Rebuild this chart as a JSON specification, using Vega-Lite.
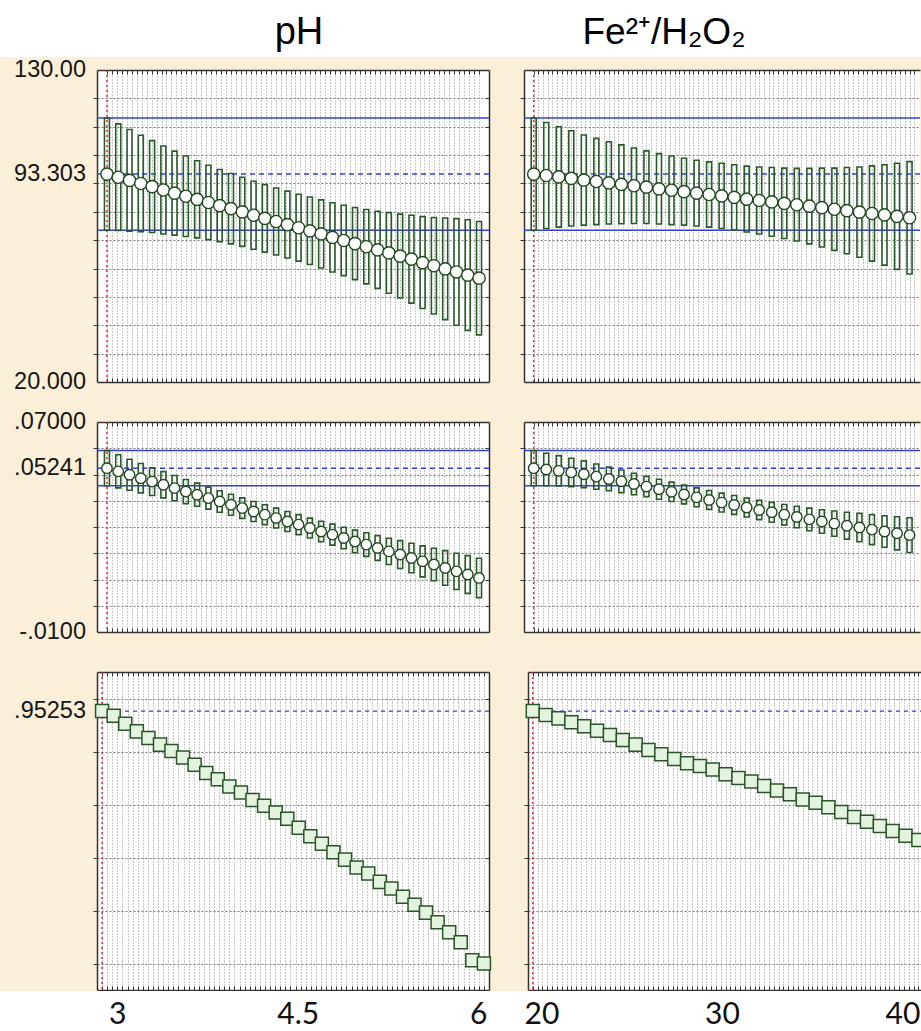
{
  "$schema": "https://vega.github.io/schema/vega-lite/v6.json",
  "background": "#FBEFD7",
  "padding": 0,
  "spacing": 0,
  "config": {
    "view": {"stroke": null},
    "axis": {
      "domainColor": "#333333",
      "domainWidth": 1.5,
      "tickColor": "#333333",
      "tickWidth": 1,
      "gridColor": "#8f8f8f",
      "gridWidth": 1,
      "gridDash": [1, 2]
    }
  },
  "datasets": {
    "cur": [{"pH": 3, "Fe": 20}],
    "ref1": [{"v": 113.1, "k": "ci"}, {"v": 73.5, "k": "ci"}, {"v": 93.303, "k": "pred"}],
    "ref2": [{"v": 0.0591, "k": "ci"}, {"v": 0.0457, "k": "ci"}, {"v": 0.05241, "k": "pred"}],
    "ref3": [{"v": 0.95253, "k": "pred"}],
    "lab1": [{"v": 130, "t": "130.00"}, {"v": 93.303, "t": "93.303"}, {"v": 20, "t": "20.000"}],
    "lab2": [{"v": 0.07, "t": ".07000"}, {"v": 0.05241, "t": ".05241"}, {"v": -0.01, "t": "-.0100"}],
    "lab3": [{"v": 0.95253, "t": ".95253"}],
    "p1pH": [
      {"pH": 3.000, "m": 93.30, "lo": 73.5, "hi": 113.1},
      {"pH": 3.091, "m": 92.2, "lo": 73.4, "hi": 111.0},
      {"pH": 3.182, "m": 91.1, "lo": 73.2, "hi": 109.0},
      {"pH": 3.273, "m": 90.0, "lo": 73.0, "hi": 107.0},
      {"pH": 3.364, "m": 88.9, "lo": 72.7, "hi": 105.1},
      {"pH": 3.455, "m": 87.7, "lo": 72.2, "hi": 103.2},
      {"pH": 3.545, "m": 86.6, "lo": 71.8, "hi": 101.4},
      {"pH": 3.636, "m": 85.5, "lo": 71.3, "hi": 99.7},
      {"pH": 3.727, "m": 84.4, "lo": 70.8, "hi": 98.0},
      {"pH": 3.818, "m": 83.3, "lo": 70.2, "hi": 96.4},
      {"pH": 3.909, "m": 82.2, "lo": 69.5, "hi": 94.9},
      {"pH": 4.000, "m": 81.1, "lo": 68.7, "hi": 93.5},
      {"pH": 4.091, "m": 80.0, "lo": 67.8, "hi": 92.2},
      {"pH": 4.182, "m": 78.8, "lo": 66.8, "hi": 90.8},
      {"pH": 4.273, "m": 77.7, "lo": 65.8, "hi": 89.6},
      {"pH": 4.364, "m": 76.6, "lo": 64.8, "hi": 88.4},
      {"pH": 4.455, "m": 75.5, "lo": 63.7, "hi": 87.3},
      {"pH": 4.545, "m": 74.4, "lo": 62.6, "hi": 86.2},
      {"pH": 4.636, "m": 73.3, "lo": 61.4, "hi": 85.2},
      {"pH": 4.727, "m": 72.2, "lo": 60.2, "hi": 84.2},
      {"pH": 4.818, "m": 71.0, "lo": 58.8, "hi": 83.2},
      {"pH": 4.909, "m": 69.9, "lo": 57.5, "hi": 82.3},
      {"pH": 5.000, "m": 68.8, "lo": 56.1, "hi": 81.5},
      {"pH": 5.091, "m": 67.7, "lo": 54.6, "hi": 80.8},
      {"pH": 5.182, "m": 66.6, "lo": 53.0, "hi": 80.2},
      {"pH": 5.273, "m": 65.5, "lo": 51.3, "hi": 79.7},
      {"pH": 5.364, "m": 64.4, "lo": 49.6, "hi": 79.2},
      {"pH": 5.455, "m": 63.3, "lo": 47.8, "hi": 78.8},
      {"pH": 5.545, "m": 62.1, "lo": 45.9, "hi": 78.3},
      {"pH": 5.636, "m": 61.0, "lo": 44.0, "hi": 78.0},
      {"pH": 5.727, "m": 59.9, "lo": 42.0, "hi": 77.8},
      {"pH": 5.818, "m": 58.8, "lo": 40.0, "hi": 77.6},
      {"pH": 5.909, "m": 57.7, "lo": 38.2, "hi": 77.2},
      {"pH": 6.000, "m": 56.6, "lo": 36.6, "hi": 76.6}
    ],
    "p1Fe": [
      {"Fe": 20.000, "m": 93.30, "lo": 73.5, "hi": 113.1},
      {"Fe": 20.667, "m": 92.8, "lo": 74.1, "hi": 111.5},
      {"Fe": 21.333, "m": 92.3, "lo": 74.6, "hi": 110.0},
      {"Fe": 22.000, "m": 91.8, "lo": 75.0, "hi": 108.6},
      {"Fe": 22.667, "m": 91.2, "lo": 75.3, "hi": 107.1},
      {"Fe": 23.333, "m": 90.7, "lo": 75.5, "hi": 105.9},
      {"Fe": 24.000, "m": 90.2, "lo": 75.7, "hi": 104.7},
      {"Fe": 24.667, "m": 89.7, "lo": 75.8, "hi": 103.6},
      {"Fe": 25.333, "m": 89.2, "lo": 75.9, "hi": 102.5},
      {"Fe": 26.000, "m": 88.7, "lo": 75.9, "hi": 101.5},
      {"Fe": 26.667, "m": 88.1, "lo": 75.7, "hi": 100.5},
      {"Fe": 27.333, "m": 87.6, "lo": 75.5, "hi": 99.7},
      {"Fe": 28.000, "m": 87.1, "lo": 75.3, "hi": 98.9},
      {"Fe": 28.667, "m": 86.6, "lo": 75.0, "hi": 98.2},
      {"Fe": 29.333, "m": 86.1, "lo": 74.6, "hi": 97.6},
      {"Fe": 30.000, "m": 85.6, "lo": 74.1, "hi": 97.1},
      {"Fe": 30.667, "m": 85.1, "lo": 73.6, "hi": 96.6},
      {"Fe": 31.333, "m": 84.5, "lo": 72.9, "hi": 96.1},
      {"Fe": 32.000, "m": 84.0, "lo": 72.2, "hi": 95.8},
      {"Fe": 32.667, "m": 83.5, "lo": 71.4, "hi": 95.6},
      {"Fe": 33.333, "m": 83.0, "lo": 70.6, "hi": 95.4},
      {"Fe": 34.000, "m": 82.5, "lo": 69.7, "hi": 95.3},
      {"Fe": 34.667, "m": 82.0, "lo": 68.7, "hi": 95.3},
      {"Fe": 35.333, "m": 81.5, "lo": 67.6, "hi": 95.4},
      {"Fe": 36.000, "m": 80.9, "lo": 66.4, "hi": 95.4},
      {"Fe": 36.667, "m": 80.4, "lo": 65.2, "hi": 95.6},
      {"Fe": 37.333, "m": 79.9, "lo": 64.0, "hi": 95.8},
      {"Fe": 38.000, "m": 79.4, "lo": 62.6, "hi": 96.2},
      {"Fe": 38.667, "m": 78.9, "lo": 61.2, "hi": 96.6},
      {"Fe": 39.333, "m": 78.4, "lo": 59.7, "hi": 97.1},
      {"Fe": 40.000, "m": 77.9, "lo": 58.1, "hi": 97.7}
    ],
    "p2pH": [
      {"pH": 3.000, "m": 0.05241, "lo": 0.0457, "hi": 0.0591},
      {"pH": 3.091, "m": 0.0512, "lo": 0.0449, "hi": 0.0575},
      {"pH": 3.182, "m": 0.0499, "lo": 0.0440, "hi": 0.0558},
      {"pH": 3.273, "m": 0.0486, "lo": 0.0430, "hi": 0.0542},
      {"pH": 3.364, "m": 0.0473, "lo": 0.0420, "hi": 0.0526},
      {"pH": 3.455, "m": 0.0461, "lo": 0.0411, "hi": 0.0511},
      {"pH": 3.545, "m": 0.0448, "lo": 0.0400, "hi": 0.0496},
      {"pH": 3.636, "m": 0.0435, "lo": 0.0389, "hi": 0.0481},
      {"pH": 3.727, "m": 0.0423, "lo": 0.0379, "hi": 0.0467},
      {"pH": 3.818, "m": 0.0410, "lo": 0.0368, "hi": 0.0452},
      {"pH": 3.909, "m": 0.0397, "lo": 0.0356, "hi": 0.0438},
      {"pH": 4.000, "m": 0.0385, "lo": 0.0345, "hi": 0.0425},
      {"pH": 4.091, "m": 0.0372, "lo": 0.0333, "hi": 0.0411},
      {"pH": 4.182, "m": 0.0359, "lo": 0.0321, "hi": 0.0397},
      {"pH": 4.273, "m": 0.0347, "lo": 0.0309, "hi": 0.0385},
      {"pH": 4.364, "m": 0.0334, "lo": 0.0296, "hi": 0.0372},
      {"pH": 4.455, "m": 0.0321, "lo": 0.0283, "hi": 0.0359},
      {"pH": 4.545, "m": 0.0309, "lo": 0.0271, "hi": 0.0347},
      {"pH": 4.636, "m": 0.0296, "lo": 0.0258, "hi": 0.0334},
      {"pH": 4.727, "m": 0.0283, "lo": 0.0244, "hi": 0.0322},
      {"pH": 4.818, "m": 0.0271, "lo": 0.0231, "hi": 0.0311},
      {"pH": 4.909, "m": 0.0258, "lo": 0.0217, "hi": 0.0299},
      {"pH": 5.000, "m": 0.0245, "lo": 0.0202, "hi": 0.0288},
      {"pH": 5.091, "m": 0.0233, "lo": 0.0188, "hi": 0.0278},
      {"pH": 5.182, "m": 0.0220, "lo": 0.0173, "hi": 0.0267},
      {"pH": 5.273, "m": 0.0207, "lo": 0.0157, "hi": 0.0257},
      {"pH": 5.364, "m": 0.0195, "lo": 0.0142, "hi": 0.0248},
      {"pH": 5.455, "m": 0.0182, "lo": 0.0126, "hi": 0.0238},
      {"pH": 5.545, "m": 0.0169, "lo": 0.0110, "hi": 0.0228},
      {"pH": 5.636, "m": 0.0157, "lo": 0.0095, "hi": 0.0219},
      {"pH": 5.727, "m": 0.0144, "lo": 0.0078, "hi": 0.0210},
      {"pH": 5.818, "m": 0.0131, "lo": 0.0062, "hi": 0.0200},
      {"pH": 5.909, "m": 0.0119, "lo": 0.0047, "hi": 0.0191},
      {"pH": 6.000, "m": 0.0106, "lo": 0.0031, "hi": 0.0181}
    ],
    "p2Fe": [
      {"Fe": 20.000, "m": 0.05241, "lo": 0.0457, "hi": 0.0591},
      {"Fe": 20.667, "m": 0.0519, "lo": 0.0457, "hi": 0.0581},
      {"Fe": 21.333, "m": 0.0514, "lo": 0.0456, "hi": 0.0572},
      {"Fe": 22.000, "m": 0.0508, "lo": 0.0454, "hi": 0.0562},
      {"Fe": 22.667, "m": 0.0501, "lo": 0.0450, "hi": 0.0552},
      {"Fe": 23.333, "m": 0.0492, "lo": 0.0444, "hi": 0.0540},
      {"Fe": 24.000, "m": 0.0483, "lo": 0.0438, "hi": 0.0528},
      {"Fe": 24.667, "m": 0.0474, "lo": 0.0431, "hi": 0.0517},
      {"Fe": 25.333, "m": 0.0464, "lo": 0.0423, "hi": 0.0505},
      {"Fe": 26.000, "m": 0.0454, "lo": 0.0415, "hi": 0.0493},
      {"Fe": 26.667, "m": 0.0444, "lo": 0.0406, "hi": 0.0482},
      {"Fe": 27.333, "m": 0.0434, "lo": 0.0397, "hi": 0.0471},
      {"Fe": 28.000, "m": 0.0424, "lo": 0.0388, "hi": 0.0460},
      {"Fe": 28.667, "m": 0.0413, "lo": 0.0377, "hi": 0.0449},
      {"Fe": 29.333, "m": 0.0403, "lo": 0.0367, "hi": 0.0439},
      {"Fe": 30.000, "m": 0.0393, "lo": 0.0357, "hi": 0.0429},
      {"Fe": 30.667, "m": 0.0384, "lo": 0.0348, "hi": 0.0420},
      {"Fe": 31.333, "m": 0.0374, "lo": 0.0338, "hi": 0.0410},
      {"Fe": 32.000, "m": 0.0365, "lo": 0.0328, "hi": 0.0402},
      {"Fe": 32.667, "m": 0.0356, "lo": 0.0318, "hi": 0.0394},
      {"Fe": 33.333, "m": 0.0347, "lo": 0.0308, "hi": 0.0386},
      {"Fe": 34.000, "m": 0.0338, "lo": 0.0297, "hi": 0.0379},
      {"Fe": 34.667, "m": 0.0329, "lo": 0.0286, "hi": 0.0372},
      {"Fe": 35.333, "m": 0.0321, "lo": 0.0276, "hi": 0.0366},
      {"Fe": 36.000, "m": 0.0313, "lo": 0.0265, "hi": 0.0361},
      {"Fe": 36.667, "m": 0.0305, "lo": 0.0254, "hi": 0.0356},
      {"Fe": 37.333, "m": 0.0298, "lo": 0.0244, "hi": 0.0352},
      {"Fe": 38.000, "m": 0.0290, "lo": 0.0233, "hi": 0.0347},
      {"Fe": 38.667, "m": 0.0283, "lo": 0.0223, "hi": 0.0343},
      {"Fe": 39.333, "m": 0.0276, "lo": 0.0213, "hi": 0.0339},
      {"Fe": 40.000, "m": 0.0269, "lo": 0.0203, "hi": 0.0335}
    ],
    "p3pH": [
      {"pH": 3.000, "d": 0.95253}, {"pH": 3.091, "d": 0.935}, {"pH": 3.182, "d": 0.905},
      {"pH": 3.273, "d": 0.876}, {"pH": 3.364, "d": 0.851}, {"pH": 3.455, "d": 0.826},
      {"pH": 3.545, "d": 0.802}, {"pH": 3.636, "d": 0.777}, {"pH": 3.727, "d": 0.750},
      {"pH": 3.818, "d": 0.719}, {"pH": 3.909, "d": 0.695}, {"pH": 4.000, "d": 0.668},
      {"pH": 4.091, "d": 0.645}, {"pH": 4.182, "d": 0.617}, {"pH": 4.273, "d": 0.595},
      {"pH": 4.364, "d": 0.570}, {"pH": 4.455, "d": 0.546}, {"pH": 4.545, "d": 0.512},
      {"pH": 4.636, "d": 0.480}, {"pH": 4.727, "d": 0.452}, {"pH": 4.818, "d": 0.420},
      {"pH": 4.909, "d": 0.392}, {"pH": 5.000, "d": 0.362}, {"pH": 5.091, "d": 0.340},
      {"pH": 5.182, "d": 0.308}, {"pH": 5.273, "d": 0.283}, {"pH": 5.364, "d": 0.252},
      {"pH": 5.455, "d": 0.222}, {"pH": 5.545, "d": 0.192}, {"pH": 5.636, "d": 0.156},
      {"pH": 5.727, "d": 0.118}, {"pH": 5.818, "d": 0.080}, {"pH": 5.909, "d": 0.012},
      {"pH": 6.000, "d": 0.000}
    ],
    "p3Fe": [
      {"Fe": 20.000, "d": 0.95253}, {"Fe": 20.667, "d": 0.938}, {"Fe": 21.333, "d": 0.925},
      {"Fe": 22.000, "d": 0.910}, {"Fe": 22.667, "d": 0.895}, {"Fe": 23.333, "d": 0.878},
      {"Fe": 24.000, "d": 0.862}, {"Fe": 24.667, "d": 0.843}, {"Fe": 25.333, "d": 0.826},
      {"Fe": 26.000, "d": 0.806}, {"Fe": 26.667, "d": 0.790}, {"Fe": 27.333, "d": 0.772},
      {"Fe": 28.000, "d": 0.756}, {"Fe": 28.667, "d": 0.745}, {"Fe": 29.333, "d": 0.732},
      {"Fe": 30.000, "d": 0.714}, {"Fe": 30.667, "d": 0.700}, {"Fe": 31.333, "d": 0.687},
      {"Fe": 32.000, "d": 0.670}, {"Fe": 32.667, "d": 0.653}, {"Fe": 33.333, "d": 0.639},
      {"Fe": 34.000, "d": 0.619}, {"Fe": 34.667, "d": 0.607}, {"Fe": 35.333, "d": 0.590},
      {"Fe": 36.000, "d": 0.572}, {"Fe": 36.667, "d": 0.553}, {"Fe": 37.333, "d": 0.535},
      {"Fe": 38.000, "d": 0.519}, {"Fe": 38.667, "d": 0.500}, {"Fe": 39.333, "d": 0.482},
      {"Fe": 40.000, "d": 0.466}
    ],
    "footpH": [{"pH": 3}, {"pH": 4.5}, {"pH": 6}],
    "footFe": [{"Fe": 20}, {"Fe": 30}, {"Fe": 40}]
  },
  "vconcat": [
    {
      "spacing": 0,
      "bounds": "flush",
      "hconcat": [
        {
          "width": 580, "height": 57,
          "view": {"fill": "#ffffff", "stroke": null},
          "data": {"values": [{"t": "pH"}]},
          "mark": {"type": "text", "font": "Liberation Sans", "fontSize": 38, "baseline": "alphabetic", "dy": 15, "dx": 9, "color": "#000000"},
          "encoding": {"text": {"field": "t"}}
        },
        {
          "width": 168, "height": 57,
          "view": {"fill": "#ffffff", "stroke": null},
          "data": {"values": [{"t": "Fe²⁺/H₂O₂"}]},
          "mark": {"type": "text", "font": "Liberation Sans", "fontSize": 37, "baseline": "alphabetic", "dy": 15, "color": "#000000"},
          "encoding": {"text": {"field": "t"}}
        },
        {
          "width": 173, "height": 57,
          "view": {"fill": "#ffffff", "stroke": null},
          "data": {"values": [{"t": ""}]},
          "mark": {"type": "text"},
          "encoding": {"text": {"field": "t"}}
        }
      ]
    },
    {
      "spacing": 0,
      "hconcat": [
        {
          "width": 86, "height": 312,
          "data": {"name": "lab1"},
          "mark": {"type": "text", "align": "right", "baseline": "middle", "font": "Liberation Sans", "fontSize": 23.5, "color": "#151515"},
          "encoding": {
            "y": {"field": "v", "type": "quantitative", "scale": {"domain": [20, 130], "nice": false, "zero": false}, "axis": null},
            "x": {"value": "width"},
            "text": {"field": "t"}
          }
        },
        {
          "width": 392, "height": 312,
          "view": {"fill": "#ffffff", "stroke": null},
          "resolve": {"axis": {"x": "independent", "y": "independent"}},
          "layer": [
            {
              "data": {"name": "ref1"},
              "transform": [{"filter": "datum.k == 'ci'"}],
              "mark": {"type": "rule", "color": "#3240d2", "strokeWidth": 1.5},
              "encoding": {
                "y": {"field": "v", "type": "quantitative", "scale": {"domain": [20, 130], "nice": false, "zero": false},
                  "axis": {"orient": "left", "title": null, "values": [30, 40, 50, 60, 70, 80, 90, 100, 110, 120], "labels": false, "tickSize": 4, "grid": true, "gridDash": [2, 2], "gridColor": "#7a7a7a", "domain": true, "minExtent": 11, "maxExtent": 11}}
              }
            },
            {
              "data": {"name": "ref1"},
              "transform": [{"filter": "datum.k == 'pred'"}],
              "mark": {"type": "rule", "color": "#3240d2", "strokeWidth": 1.5, "strokeDash": [5, 4]},
              "encoding": {"y": {"field": "v", "type": "quantitative", "axis": null}}
            },
            {
              "data": {"name": "cur"},
              "mark": {"type": "rule", "color": "#e0283a", "strokeWidth": 1.5, "strokeDash": [2, 3]},
              "encoding": {
                "x": {"field": "pH", "type": "quantitative", "scale": {"domain": [2.96, 6.04], "nice": false, "zero": false},
                  "axis": {"orient": "top", "title": null, "values": [3,3.04,3.08,3.12,3.16,3.2,3.24,3.28,3.32,3.36,3.4,3.44,3.48,3.52,3.56,3.6,3.64,3.68,3.72,3.76,3.8,3.84,3.88,3.92,3.96,4,4.04,4.08,4.12,4.16,4.2,4.24,4.28,4.32,4.36,4.4,4.44,4.48,4.52,4.56,4.6,4.64,4.68,4.72,4.76,4.8,4.84,4.88,4.92,4.96,5,5.04,5.08,5.12,5.16,5.2,5.24,5.28,5.32,5.36,5.4,5.44,5.48,5.52,5.56,5.6,5.64,5.68,5.72,5.76,5.8,5.84,5.88,5.92,5.96,6], "labels": false, "tickSize": -4, "grid": true, "domain": true, "minExtent": 13, "maxExtent": 13}}
              }
            },
            {
              "data": {"name": "p1pH"},
              "mark": {"type": "bar", "width": 5, "filled": false, "color": "#285a2a", "strokeWidth": 1.6},
              "encoding": {
                "x": {"field": "pH", "type": "quantitative", "axis": null},
                "y": {"field": "lo", "type": "quantitative", "axis": null},
                "y2": {"field": "hi"}
              }
            },
            {
              "data": {"name": "p1pH"},
              "mark": {"type": "point", "shape": "circle", "size": 150, "filled": true, "fill": "#ffffff", "stroke": "#21481f", "strokeWidth": 1.4, "opacity": 1},
              "encoding": {
                "x": {"field": "pH", "type": "quantitative",
                  "axis": {"orient": "bottom", "title": null, "values": [3,3.04,3.08,3.12,3.16,3.2,3.24,3.28,3.32,3.36,3.4,3.44,3.48,3.52,3.56,3.6,3.64,3.68,3.72,3.76,3.8,3.84,3.88,3.92,3.96,4,4.04,4.08,4.12,4.16,4.2,4.24,4.28,4.32,4.36,4.4,4.44,4.48,4.52,4.56,4.6,4.64,4.68,4.72,4.76,4.8,4.84,4.88,4.92,4.96,5,5.04,5.08,5.12,5.16,5.2,5.24,5.28,5.32,5.36,5.4,5.44,5.48,5.52,5.56,5.6,5.64,5.68,5.72,5.76,5.8,5.84,5.88,5.92,5.96,6], "labels": false, "tickSize": -4, "grid": false, "domain": true, "minExtent": 20, "maxExtent": 20}},
                "y": {"field": "m", "type": "quantitative",
                  "axis": {"orient": "right", "title": null, "values": [30, 40, 50, 60, 70, 80, 90, 100, 110, 120], "labels": false, "tickSize": -4, "grid": false, "domain": true, "minExtent": 0, "maxExtent": 0}}
              }
            }
          ]
        },
        {
          "width": 396, "height": 312,
          "view": {"fill": "#ffffff", "stroke": null},
          "resolve": {"axis": {"x": "independent", "y": "independent"}},
          "layer": [
            {
              "data": {"name": "ref1"},
              "transform": [{"filter": "datum.k == 'ci'"}],
              "mark": {"type": "rule", "color": "#3240d2", "strokeWidth": 1.5},
              "encoding": {
                "y": {"field": "v", "type": "quantitative", "scale": {"domain": [20, 130], "nice": false, "zero": false},
                  "axis": {"orient": "left", "title": null, "values": [30, 40, 50, 60, 70, 80, 90, 100, 110, 120], "labels": false, "tickSize": 4, "grid": true, "gridDash": [2, 2], "gridColor": "#7a7a7a", "domain": true, "minExtent": 34, "maxExtent": 34}}
              }
            },
            {
              "data": {"name": "ref1"},
              "transform": [{"filter": "datum.k == 'pred'"}],
              "mark": {"type": "rule", "color": "#3240d2", "strokeWidth": 1.5, "strokeDash": [5, 4]},
              "encoding": {"y": {"field": "v", "type": "quantitative", "axis": null}}
            },
            {
              "data": {"name": "cur"},
              "mark": {"type": "rule", "color": "#e0283a", "strokeWidth": 1.5, "strokeDash": [2, 3]},
              "encoding": {
                "x": {"field": "Fe", "type": "quantitative", "scale": {"domain": [19.75, 40.29], "nice": false, "zero": false},
                  "axis": {"orient": "top", "title": null, "values": [20,20.25,20.5,20.75,21,21.25,21.5,21.75,22,22.25,22.5,22.75,23,23.25,23.5,23.75,24,24.25,24.5,24.75,25,25.25,25.5,25.75,26,26.25,26.5,26.75,27,27.25,27.5,27.75,28,28.25,28.5,28.75,29,29.25,29.5,29.75,30,30.25,30.5,30.75,31,31.25,31.5,31.75,32,32.25,32.5,32.75,33,33.25,33.5,33.75,34,34.25,34.5,34.75,35,35.25,35.5,35.75,36,36.25,36.5,36.75,37,37.25,37.5,37.75,38,38.25,38.5,38.75,39,39.25,39.5,39.75,40,40.25], "labels": false, "tickSize": -4, "grid": true, "domain": true, "minExtent": 13, "maxExtent": 13}}
              }
            },
            {
              "data": {"name": "p1Fe"},
              "mark": {"type": "bar", "width": 5, "filled": false, "color": "#285a2a", "strokeWidth": 1.6},
              "encoding": {
                "x": {"field": "Fe", "type": "quantitative", "axis": null},
                "y": {"field": "lo", "type": "quantitative", "axis": null},
                "y2": {"field": "hi"}
              }
            },
            {
              "data": {"name": "p1Fe"},
              "mark": {"type": "point", "shape": "circle", "size": 150, "filled": true, "fill": "#ffffff", "stroke": "#21481f", "strokeWidth": 1.4, "opacity": 1},
              "encoding": {
                "x": {"field": "Fe", "type": "quantitative",
                  "axis": {"orient": "bottom", "title": null, "values": [20,20.25,20.5,20.75,21,21.25,21.5,21.75,22,22.25,22.5,22.75,23,23.25,23.5,23.75,24,24.25,24.5,24.75,25,25.25,25.5,25.75,26,26.25,26.5,26.75,27,27.25,27.5,27.75,28,28.25,28.5,28.75,29,29.25,29.5,29.75,30,30.25,30.5,30.75,31,31.25,31.5,31.75,32,32.25,32.5,32.75,33,33.25,33.5,33.75,34,34.25,34.5,34.75,35,35.25,35.5,35.75,36,36.25,36.5,36.75,37,37.25,37.5,37.75,38,38.25,38.5,38.75,39,39.25,39.5,39.75,40,40.25], "labels": false, "tickSize": -4, "grid": false, "domain": true, "minExtent": 20, "maxExtent": 20}},
                "y": {"field": "m", "type": "quantitative", "axis": null}
              }
            }
          ]
        }
      ]
    },
    {
      "spacing": 0,
      "hconcat": [
        {
          "width": 86, "height": 210,
          "data": {"name": "lab2"},
          "mark": {"type": "text", "align": "right", "baseline": "middle", "font": "Liberation Sans", "fontSize": 23.5, "color": "#151515"},
          "encoding": {
            "y": {"field": "v", "type": "quantitative", "scale": {"domain": [-0.01, 0.07], "nice": false, "zero": false}, "axis": null},
            "x": {"value": "width"},
            "text": {"field": "t"}
          }
        },
        {
          "width": 392, "height": 210,
          "view": {"fill": "#ffffff", "stroke": null},
          "resolve": {"axis": {"x": "independent", "y": "independent"}},
          "layer": [
            {
              "data": {"name": "ref2"},
              "transform": [{"filter": "datum.k == 'ci'"}],
              "mark": {"type": "rule", "color": "#3240d2", "strokeWidth": 1.5},
              "encoding": {
                "y": {"field": "v", "type": "quantitative", "scale": {"domain": [-0.01, 0.07], "nice": false, "zero": false},
                  "axis": {"orient": "left", "title": null, "values": [0, 0.01, 0.02, 0.03, 0.04, 0.05, 0.06], "labels": false, "tickSize": 4, "grid": true, "gridDash": [2, 2], "gridColor": "#7a7a7a", "domain": true, "minExtent": 11, "maxExtent": 11}}
              }
            },
            {
              "data": {"name": "ref2"},
              "transform": [{"filter": "datum.k == 'pred'"}],
              "mark": {"type": "rule", "color": "#3240d2", "strokeWidth": 1.5, "strokeDash": [5, 4]},
              "encoding": {"y": {"field": "v", "type": "quantitative", "axis": null}}
            },
            {
              "data": {"name": "cur"},
              "mark": {"type": "rule", "color": "#e0283a", "strokeWidth": 1.5, "strokeDash": [2, 3]},
              "encoding": {
                "x": {"field": "pH", "type": "quantitative", "scale": {"domain": [2.96, 6.04], "nice": false, "zero": false},
                  "axis": {"orient": "top", "title": null, "values": [3,3.04,3.08,3.12,3.16,3.2,3.24,3.28,3.32,3.36,3.4,3.44,3.48,3.52,3.56,3.6,3.64,3.68,3.72,3.76,3.8,3.84,3.88,3.92,3.96,4,4.04,4.08,4.12,4.16,4.2,4.24,4.28,4.32,4.36,4.4,4.44,4.48,4.52,4.56,4.6,4.64,4.68,4.72,4.76,4.8,4.84,4.88,4.92,4.96,5,5.04,5.08,5.12,5.16,5.2,5.24,5.28,5.32,5.36,5.4,5.44,5.48,5.52,5.56,5.6,5.64,5.68,5.72,5.76,5.8,5.84,5.88,5.92,5.96,6], "labels": false, "tickSize": -4, "grid": true, "domain": true, "minExtent": 20, "maxExtent": 20}}
              }
            },
            {
              "data": {"name": "p2pH"},
              "mark": {"type": "bar", "width": 5, "filled": false, "color": "#285a2a", "strokeWidth": 1.6},
              "encoding": {
                "x": {"field": "pH", "type": "quantitative", "axis": null},
                "y": {"field": "lo", "type": "quantitative", "axis": null},
                "y2": {"field": "hi"}
              }
            },
            {
              "data": {"name": "p2pH"},
              "mark": {"type": "point", "shape": "circle", "size": 110, "filled": true, "fill": "#ffffff", "stroke": "#21481f", "strokeWidth": 1.4, "opacity": 1},
              "encoding": {
                "x": {"field": "pH", "type": "quantitative",
                  "axis": {"orient": "bottom", "title": null, "values": [3,3.04,3.08,3.12,3.16,3.2,3.24,3.28,3.32,3.36,3.4,3.44,3.48,3.52,3.56,3.6,3.64,3.68,3.72,3.76,3.8,3.84,3.88,3.92,3.96,4,4.04,4.08,4.12,4.16,4.2,4.24,4.28,4.32,4.36,4.4,4.44,4.48,4.52,4.56,4.6,4.64,4.68,4.72,4.76,4.8,4.84,4.88,4.92,4.96,5,5.04,5.08,5.12,5.16,5.2,5.24,5.28,5.32,5.36,5.4,5.44,5.48,5.52,5.56,5.6,5.64,5.68,5.72,5.76,5.8,5.84,5.88,5.92,5.96,6], "labels": false, "tickSize": -4, "grid": false, "domain": true, "minExtent": 20, "maxExtent": 20}},
                "y": {"field": "m", "type": "quantitative",
                  "axis": {"orient": "right", "title": null, "values": [0, 0.01, 0.02, 0.03, 0.04, 0.05, 0.06], "labels": false, "tickSize": -4, "grid": false, "domain": true, "minExtent": 0, "maxExtent": 0}}
              }
            }
          ]
        },
        {
          "width": 396, "height": 210,
          "view": {"fill": "#ffffff", "stroke": null},
          "resolve": {"axis": {"x": "independent", "y": "independent"}},
          "layer": [
            {
              "data": {"name": "ref2"},
              "transform": [{"filter": "datum.k == 'ci'"}],
              "mark": {"type": "rule", "color": "#3240d2", "strokeWidth": 1.5},
              "encoding": {
                "y": {"field": "v", "type": "quantitative", "scale": {"domain": [-0.01, 0.07], "nice": false, "zero": false},
                  "axis": {"orient": "left", "title": null, "values": [0, 0.01, 0.02, 0.03, 0.04, 0.05, 0.06], "labels": false, "tickSize": 4, "grid": true, "gridDash": [2, 2], "gridColor": "#7a7a7a", "domain": true, "minExtent": 34, "maxExtent": 34}}
              }
            },
            {
              "data": {"name": "ref2"},
              "transform": [{"filter": "datum.k == 'pred'"}],
              "mark": {"type": "rule", "color": "#3240d2", "strokeWidth": 1.5, "strokeDash": [5, 4]},
              "encoding": {"y": {"field": "v", "type": "quantitative", "axis": null}}
            },
            {
              "data": {"name": "cur"},
              "mark": {"type": "rule", "color": "#e0283a", "strokeWidth": 1.5, "strokeDash": [2, 3]},
              "encoding": {
                "x": {"field": "Fe", "type": "quantitative", "scale": {"domain": [19.75, 40.29], "nice": false, "zero": false},
                  "axis": {"orient": "top", "title": null, "values": [20,20.25,20.5,20.75,21,21.25,21.5,21.75,22,22.25,22.5,22.75,23,23.25,23.5,23.75,24,24.25,24.5,24.75,25,25.25,25.5,25.75,26,26.25,26.5,26.75,27,27.25,27.5,27.75,28,28.25,28.5,28.75,29,29.25,29.5,29.75,30,30.25,30.5,30.75,31,31.25,31.5,31.75,32,32.25,32.5,32.75,33,33.25,33.5,33.75,34,34.25,34.5,34.75,35,35.25,35.5,35.75,36,36.25,36.5,36.75,37,37.25,37.5,37.75,38,38.25,38.5,38.75,39,39.25,39.5,39.75,40,40.25], "labels": false, "tickSize": -4, "grid": true, "domain": true, "minExtent": 20, "maxExtent": 20}}
              }
            },
            {
              "data": {"name": "p2Fe"},
              "mark": {"type": "bar", "width": 5, "filled": false, "color": "#285a2a", "strokeWidth": 1.6},
              "encoding": {
                "x": {"field": "Fe", "type": "quantitative", "axis": null},
                "y": {"field": "lo", "type": "quantitative", "axis": null},
                "y2": {"field": "hi"}
              }
            },
            {
              "data": {"name": "p2Fe"},
              "mark": {"type": "point", "shape": "circle", "size": 110, "filled": true, "fill": "#ffffff", "stroke": "#21481f", "strokeWidth": 1.4, "opacity": 1},
              "encoding": {
                "x": {"field": "Fe", "type": "quantitative",
                  "axis": {"orient": "bottom", "title": null, "values": [20,20.25,20.5,20.75,21,21.25,21.5,21.75,22,22.25,22.5,22.75,23,23.25,23.5,23.75,24,24.25,24.5,24.75,25,25.25,25.5,25.75,26,26.25,26.5,26.75,27,27.25,27.5,27.75,28,28.25,28.5,28.75,29,29.25,29.5,29.75,30,30.25,30.5,30.75,31,31.25,31.5,31.75,32,32.25,32.5,32.75,33,33.25,33.5,33.75,34,34.25,34.5,34.75,35,35.25,35.5,35.75,36,36.25,36.5,36.75,37,37.25,37.5,37.75,38,38.25,38.5,38.75,39,39.25,39.5,39.75,40,40.25], "labels": false, "tickSize": -4, "grid": false, "domain": true, "minExtent": 20, "maxExtent": 20}},
                "y": {"field": "m", "type": "quantitative", "axis": null}
              }
            }
          ]
        }
      ]
    },
    {
      "spacing": 0,
      "hconcat": [
        {
          "width": 86, "height": 318,
          "data": {"name": "lab3"},
          "mark": {"type": "text", "align": "right", "baseline": "middle", "font": "Liberation Sans", "fontSize": 23.5, "color": "#151515"},
          "encoding": {
            "y": {"field": "v", "type": "quantitative", "scale": {"domain": [-0.1, 1.1], "nice": false, "zero": false}, "axis": null},
            "x": {"value": "width"},
            "text": {"field": "t"}
          }
        },
        {
          "width": 392, "height": 318,
          "view": {"fill": "#ffffff", "stroke": null},
          "resolve": {"axis": {"x": "independent", "y": "independent"}},
          "layer": [
            {
              "data": {"name": "ref3"},
              "mark": {"type": "rule", "color": "#3240d2", "strokeWidth": 1.3, "strokeDash": [4, 4]},
              "encoding": {
                "y": {"field": "v", "type": "quantitative", "scale": {"domain": [-0.1, 1.1], "nice": false, "zero": false},
                  "axis": {"orient": "left", "title": null, "values": [0, 0.2, 0.4, 0.6, 0.8, 1], "labels": false, "tickSize": 4, "grid": true, "gridDash": [2, 2], "gridColor": "#7a7a7a", "domain": true, "minExtent": 11, "maxExtent": 11}}
              }
            },
            {
              "data": {"name": "cur"},
              "mark": {"type": "rule", "color": "#e0283a", "strokeWidth": 1.5, "strokeDash": [2, 3]},
              "encoding": {
                "x": {"field": "pH", "type": "quantitative", "scale": {"domain": [2.96, 6.04], "nice": false, "zero": false},
                  "axis": {"orient": "top", "title": null, "values": [3,3.04,3.08,3.12,3.16,3.2,3.24,3.28,3.32,3.36,3.4,3.44,3.48,3.52,3.56,3.6,3.64,3.68,3.72,3.76,3.8,3.84,3.88,3.92,3.96,4,4.04,4.08,4.12,4.16,4.2,4.24,4.28,4.32,4.36,4.4,4.44,4.48,4.52,4.56,4.6,4.64,4.68,4.72,4.76,4.8,4.84,4.88,4.92,4.96,5,5.04,5.08,5.12,5.16,5.2,5.24,5.28,5.32,5.36,5.4,5.44,5.48,5.52,5.56,5.6,5.64,5.68,5.72,5.76,5.8,5.84,5.88,5.92,5.96,6], "labels": false, "tickSize": -4, "grid": true, "domain": true, "minExtent": 20, "maxExtent": 20}}
              }
            },
            {
              "data": {"name": "p3pH"},
              "mark": {"type": "point", "shape": "square", "size": 170, "filled": true, "fill": "#e4f3df", "stroke": "#2a5529", "strokeWidth": 1.5, "opacity": 1},
              "encoding": {
                "x": {"field": "pH", "type": "quantitative",
                  "axis": {"orient": "bottom", "title": null, "values": [3,3.04,3.08,3.12,3.16,3.2,3.24,3.28,3.32,3.36,3.4,3.44,3.48,3.52,3.56,3.6,3.64,3.68,3.72,3.76,3.8,3.84,3.88,3.92,3.96,4,4.04,4.08,4.12,4.16,4.2,4.24,4.28,4.32,4.36,4.4,4.44,4.48,4.52,4.56,4.6,4.64,4.68,4.72,4.76,4.8,4.84,4.88,4.92,4.96,5,5.04,5.08,5.12,5.16,5.2,5.24,5.28,5.32,5.36,5.4,5.44,5.48,5.52,5.56,5.6,5.64,5.68,5.72,5.76,5.8,5.84,5.88,5.92,5.96,6], "labels": false, "tickSize": -4, "grid": false, "domain": true, "minExtent": 0, "maxExtent": 0}},
                "y": {"field": "d", "type": "quantitative",
                  "axis": {"orient": "right", "title": null, "values": [0, 0.2, 0.4, 0.6, 0.8, 1], "labels": false, "tickSize": -4, "grid": false, "domain": true, "minExtent": 0, "maxExtent": 0}}
              }
            }
          ]
        },
        {
          "width": 396, "height": 318,
          "view": {"fill": "#ffffff", "stroke": null},
          "resolve": {"axis": {"x": "independent", "y": "independent"}},
          "layer": [
            {
              "data": {"name": "ref3"},
              "mark": {"type": "rule", "color": "#3240d2", "strokeWidth": 1.3, "strokeDash": [4, 4]},
              "encoding": {
                "y": {"field": "v", "type": "quantitative", "scale": {"domain": [-0.1, 1.1], "nice": false, "zero": false},
                  "axis": {"orient": "left", "title": null, "values": [0, 0.2, 0.4, 0.6, 0.8, 1], "labels": false, "tickSize": 4, "grid": true, "gridDash": [2, 2], "gridColor": "#7a7a7a", "domain": true, "minExtent": 34, "maxExtent": 34}}
              }
            },
            {
              "data": {"name": "cur"},
              "mark": {"type": "rule", "color": "#e0283a", "strokeWidth": 1.5, "strokeDash": [2, 3]},
              "encoding": {
                "x": {"field": "Fe", "type": "quantitative", "scale": {"domain": [19.75, 40.29], "nice": false, "zero": false},
                  "axis": {"orient": "top", "title": null, "values": [20,20.25,20.5,20.75,21,21.25,21.5,21.75,22,22.25,22.5,22.75,23,23.25,23.5,23.75,24,24.25,24.5,24.75,25,25.25,25.5,25.75,26,26.25,26.5,26.75,27,27.25,27.5,27.75,28,28.25,28.5,28.75,29,29.25,29.5,29.75,30,30.25,30.5,30.75,31,31.25,31.5,31.75,32,32.25,32.5,32.75,33,33.25,33.5,33.75,34,34.25,34.5,34.75,35,35.25,35.5,35.75,36,36.25,36.5,36.75,37,37.25,37.5,37.75,38,38.25,38.5,38.75,39,39.25,39.5,39.75,40,40.25], "labels": false, "tickSize": -4, "grid": true, "domain": true, "minExtent": 20, "maxExtent": 20}}
              }
            },
            {
              "data": {"name": "p3Fe"},
              "mark": {"type": "point", "shape": "square", "size": 170, "filled": true, "fill": "#e4f3df", "stroke": "#2a5529", "strokeWidth": 1.5, "opacity": 1},
              "encoding": {
                "x": {"field": "Fe", "type": "quantitative",
                  "axis": {"orient": "bottom", "title": null, "values": [20,20.25,20.5,20.75,21,21.25,21.5,21.75,22,22.25,22.5,22.75,23,23.25,23.5,23.75,24,24.25,24.5,24.75,25,25.25,25.5,25.75,26,26.25,26.5,26.75,27,27.25,27.5,27.75,28,28.25,28.5,28.75,29,29.25,29.5,29.75,30,30.25,30.5,30.75,31,31.25,31.5,31.75,32,32.25,32.5,32.75,33,33.25,33.5,33.75,34,34.25,34.5,34.75,35,35.25,35.5,35.75,36,36.25,36.5,36.75,37,37.25,37.5,37.75,38,38.25,38.5,38.75,39,39.25,39.5,39.75,40,40.25], "labels": false, "tickSize": -4, "grid": false, "domain": true, "minExtent": 0, "maxExtent": 0}},
                "y": {"field": "d", "type": "quantitative", "axis": null}
              }
            }
          ]
        }
      ]
    },
    {
      "spacing": 0,
      "hconcat": [
        {
          "width": 489, "height": 39,
          "view": {"fill": "#ffffff", "stroke": null},
          "data": {"name": "footpH"},
          "mark": {"type": "text", "font": "Lato", "fontSize": 30, "baseline": "middle", "dy": 4, "color": "#111111"},
          "encoding": {
            "x": {"field": "pH", "type": "quantitative", "scale": {"domain": [2.0211, 6.0849], "nice": false, "zero": false}, "axis": null},
            "text": {"field": "pH", "type": "quantitative"}
          }
        },
        {
          "width": 432, "height": 39,
          "view": {"fill": "#ffffff", "stroke": null},
          "data": {"name": "footFe"},
          "mark": {"type": "text", "font": "Lato", "fontSize": 30, "baseline": "middle", "dy": 4, "color": "#111111"},
          "encoding": {
            "x": {"field": "Fe", "type": "quantitative", "scale": {"domain": [17.064, 40.998], "nice": false, "zero": false}, "axis": null},
            "text": {"field": "Fe", "type": "quantitative"}
          }
        }
      ]
    }
  ]
}
